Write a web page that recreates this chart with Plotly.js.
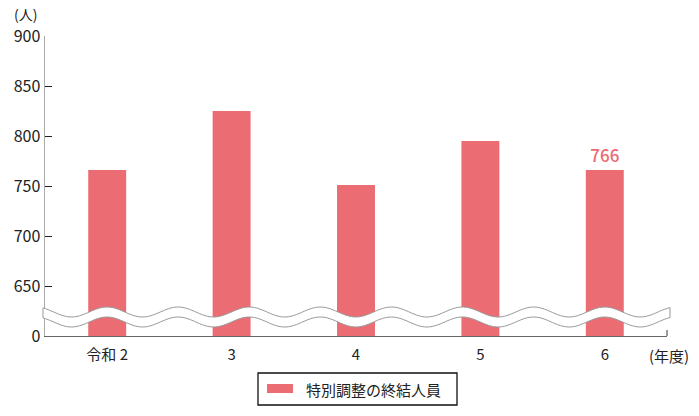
<!DOCTYPE html>
<html>
<head>
<meta charset="utf-8">
<script src="https://cdn.plot.ly/plotly-3.0.1.min.js"></script>
<style>html,body{margin:0;padding:0;background:#fff;}#chart{width:699px;height:416px;}</style>
</head>
<body>
<div id="chart"></div>
<script>
// ---- data ----
const categories = ['令和 2', '3', '4', '5', '6'];
const values = [766, 825, 751, 795, 766];
const valueLabels = ['', '', '', '', '766'];
const yTickVals = [600, 650, 700, 750, 800, 850, 900];
const yTickText = ['0', '650', '700', '750', '800', '850', '900'];
const seriesName = '特別調整の終結人員';

const FONT = '"Noto Sans CJK JP", "Noto Sans", sans-serif';
const BAR = '#EC6C74';
const YMIN = 600, YMAX = 900;
const W = 699, H = 416, ML = 45, MR = 32, MT = 36, MB = 80;
const PW = W - ML - MR, PH = H - MT - MB;

// helpers: pixel -> paper
const px2x = p => (p - ML) / PW;
const py2y = p => (H - MB - p) / PH;
const v2y = v => (v - YMIN) / (YMAX - YMIN);

// wavy break band (decoration)
function wavePath() {
  const x0 = 43, x1 = 670, period = 71.1, peak = 107, amp = 5;
  const top = [], bot = [];
  const n = 240;
  for (let i = 0; i <= n; i++) {
    const px = x0 + (x1 - x0) * i / n;
    const c = Math.cos(2 * Math.PI * (px - peak) / period);
    top.push([px2x(px), v2y(624 + amp * c)]);
    bot.push([px2x(px), v2y(614 + amp * c)]);
  }
  let d = 'M' + top.map(p => p[0].toFixed(5) + ',' + p[1].toFixed(5)).join(' L');
  d += ' L' + bot.reverse().map(p => p[0].toFixed(5) + ',' + p[1].toFixed(5)).join(' L') + ' Z';
  return d;
}

const trace = {
  type: 'bar',
  x: categories.map((c, i) => i),
  y: values,
  name: seriesName,
  marker: {color: BAR},
  width: 0.305,
  text: valueLabels,
  textposition: 'outside',
  cliponaxis: false,
  textfont: {family: FONT, size: 17, color: '#EB6A72', weight: 500},
  hoverinfo: 'skip',
  showlegend: false
};

const layout = {
  width: W, height: H,
  margin: {l: ML, r: MR, t: MT, b: MB, pad: 0},
  paper_bgcolor: '#fff', plot_bgcolor: '#fff',
  font: {family: FONT, size: 15, color: '#222'},
  showlegend: false,
  xaxis: {
    type: 'linear', range: [-0.5, 4.5],
    tickvals: categories.map((c, i) => i), ticktext: categories,
    ticks: '', showgrid: false, zeroline: false,
    showline: true, linecolor: '#666', linewidth: 1.3,
    ticklabelstandoff: 5,
    tickfont: {family: FONT, size: 15, color: '#222'},
    fixedrange: true
  },
  yaxis: {
    range: [YMIN, YMAX],
    tickvals: yTickVals, ticktext: yTickText,
    ticks: 'inside', ticklen: 7, tickcolor: '#222', tickwidth: 1,
    showgrid: false, zeroline: false,
    showline: true, linecolor: '#aaa', linewidth: 1.5,
    tickfont: {family: FONT, size: 16, color: '#222'},
    fixedrange: true
  },
  shapes: [
    {type: 'path', xref: 'paper', yref: 'paper', path: wavePath(),
     fillcolor: '#fff', line: {color: '#999', width: 1}, layer: 'above'},
    {type: 'line', xref: 'paper', yref: 'paper', x0: 1, x1: 1, y0: 0, y1: py2y(330),
     line: {color: '#666', width: 1.3}},
    // legend box
    {type: 'rect', xref: 'paper', yref: 'paper', x0: px2x(258), x1: px2x(457), y0: py2y(373), y1: py2y(405),
     line: {color: '#111', width: 1.3}, fillcolor: 'rgba(0,0,0,0)'},
    {type: 'rect', xref: 'paper', yref: 'paper', x0: px2x(267), x1: px2x(293), y0: py2y(384), y1: py2y(393),
     line: {width: 0}, fillcolor: BAR}
  ],
  annotations: [
    {text: '(人)', xref: 'paper', yref: 'paper', x: px2x(25), y: py2y(14), xanchor: 'center', yanchor: 'middle',
     showarrow: false, font: {family: FONT, size: 14, color: '#222'}},
    {text: '(年度)', xref: 'paper', yref: 'paper', x: px2x(647), y: py2y(355), xanchor: 'left', yanchor: 'middle',
     showarrow: false, font: {family: FONT, size: 15, color: '#222'}},
    {text: seriesName, xref: 'paper', yref: 'paper', x: px2x(304), y: py2y(389), xanchor: 'left', yanchor: 'middle',
     showarrow: false, font: {family: FONT, size: 15, color: '#222'}}
  ]
};

Plotly.newPlot('chart', [trace], layout, {displayModeBar: false, staticPlot: true});
</script>
</body>
</html>
